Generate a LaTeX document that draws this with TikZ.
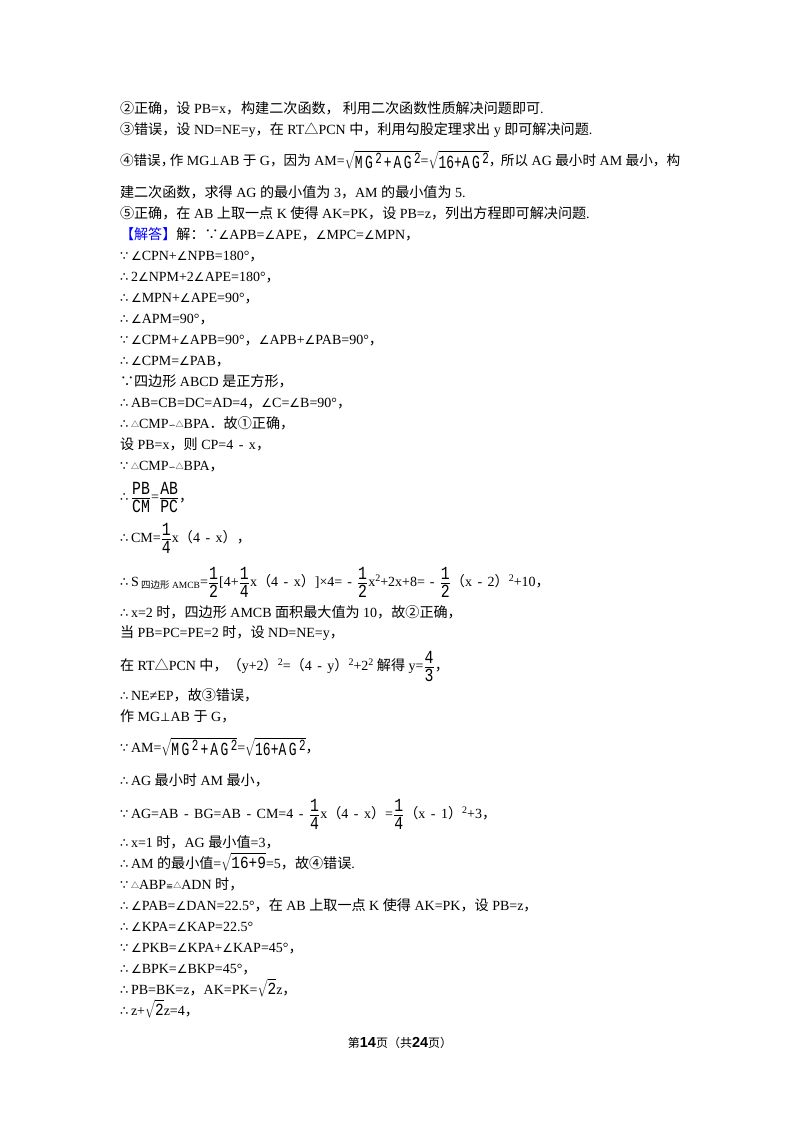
\documentclass[tikz,border=0pt]{standalone}
\usepackage{amsmath}
\font\latraw="Liberation Serif" at 14pt
\font\latsm="Liberation Serif" at 9.5pt
\font\supraw="Liberation Serif" at 10pt
\font\cjkraw="Noto Sans CJK SC" at 14.1pt
\font\cjknar="Noto Sans CJK SC" at 13.6pt
\font\cjksub="Noto Sans CJK SC" at 9.5pt
\font\cjksm="Noto Sans CJK SC" at 8pt
\font\cjkfoot="Noto Sans CJK SC" at 12pt
\font\numfoot="Liberation Sans/B" at 14.5pt
\font\symraw="DejaVu Sans" at 12pt
\font\symbig="DejaVu Sans" at 13pt
\font\symsm="DejaVu Sans" at 8.5pt
\font\ff="Liberation Mono:extend=0.8" at 18.5pt
\font\ffb="Liberation Mono:extend=0.7" at 18.5pt
\font\ffc="Liberation Mono:extend=0.85" at 17pt
\font\ffs="Liberation Mono:extend=0.7" at 15.5pt
\def\CF{\cjkraw}\def\LF{\latraw}
\newXeTeXintercharclass\cjkc
\newcount\cc
\cc="4E00 \loop\ifnum\cc<"A000 \XeTeXcharclass\cc=\cjkc \advance\cc 1 \repeat
\cc="3000 \loop\ifnum\cc<"3040 \XeTeXcharclass\cc=\cjkc \advance\cc 1 \repeat
\cc="FF00 \loop\ifnum\cc<"FF60 \XeTeXcharclass\cc=\cjkc \advance\cc 1 \repeat
\cc="2460 \loop\ifnum\cc<"2474 \XeTeXcharclass\cc=\cjkc \advance\cc 1 \repeat
\XeTeXcharclass"25B3=\cjkc
\XeTeXcharclass"2235=\cjkc
\XeTeXinterchartoks 0 \cjkc={\CF}
\XeTeXinterchartoks 4095 \cjkc={\CF}
\XeTeXinterchartoks \cjkc 0={\LF}
\XeTeXinterchartoks \cjkc 4095={\LF}
\XeTeXinterchartokenstate=1
\def\so{\hbox to 11pt{\symbig ∴\hss}}
\def\bc{\hbox to 11pt{\def\CF{\symbig}\def\LF{\symbig}\symbig ∵\hss}}
\def\ang{{\symraw ∠}}
\def\perpx{{\symraw ⊥}}
\def\stri{\begingroup\def\CF{\cjksm}\raise1pt\hbox{△}\endgroup}
\def\simx{{\symsm ∽}}
\def\congx{{\symsm ≌}}
\def\sq{\raise5pt\hbox{\supraw 2}}
\def\mn{\hskip5.5pt-\hskip5.5pt}
\def\mm{\hskip5pt-\hskip5pt}
\def\nc{\hbox to 9pt{，\hss}}
\def\ncw{\hbox to 12pt{，\hss}}
\def\fr#1#2{$\displaystyle\frac{\hbox{\ff #1}}{\hbox{\ff #2}}$}
\def\rt#1{$\sqrt{\hbox{\ffc #1}}$}
\def\rtl#1{\lower3.5pt\hbox{$\sqrt{\hbox{\ffb #1}}$}}
\def\rs{\raise5pt\hbox{\ffs 2}}
\def\mgag{M\hskip2.5pt G\hskip2.5pt\rs\hskip2pt+\hskip2pt A\hskip2.5pt G\hskip2.5pt\rs}
\def\sxag{16+A\hskip2.5pt G\hskip2.5pt\rs}
\def\subS{\lower2pt\hbox{\def\CF{\cjksub}\def\LF{\latsm}\latsm\ 四边形 AMCB}}
\tikzset{textline/.style={anchor=base west,inner sep=0pt,outer sep=0pt,font=\latraw,text=black}}
\begin{document}
\begin{tikzpicture}[x=1pt,y=-1pt]
\useasboundingbox[fill=white] (0,0) rectangle (800,1132);
\node[textline] (l01) at (120,113) {②正确，设 PB=x，\hskip1pt构建二次函数，\hskip3pt利用二次函数性质解决问题即可.};
\node[textline] (l02) at (120,134) {③错误，设 ND=NE=y，在 RT△PCN 中，利用勾股定理求出 y 即可解决问题.};
\node[textline] (l03) at (120,165) {\def\CF{\cjknar}④错误\nc 作 MG\perpx AB 于 G，因为 AM=\rtl{\mgag}=\rtl{\sxag}\ncw 所以 AG 最小时 AM 最小，构};
\node[textline] (l04) at (120,197) {建二次函数，求得 AG 的最小值为 3，AM 的最小值为 5.};
\node[textline] (l05) at (120,218) {⑤正确，在 AB 上取一点 K 使得 AK=PK，设 PB=z，列出方程即可解决问题.};
\node[textline] (l06) at (120,239) {\textcolor{blue}{【解答】}解：∵\ang APB=\ang APE，\ang MPC=\ang MPN，};
\node[textline] (l07) at (120,260) {\bc\ang CPN+\ang NPB=180°，};
\node[textline] (l08) at (120,281) {\so 2\ang NPM+2\ang APE=180°，};
\node[textline] (l09) at (120,302) {\so\ang MPN+\ang APE=90°，};
\node[textline] (l10) at (120,323) {\so\ang APM=90°，};
\node[textline] (l11) at (120,344) {\bc\ang CPM+\ang APB=90°，\ang APB+\ang PAB=90°，};
\node[textline] (l12) at (120,365) {\so\ang CPM=\ang PAB，};
\node[textline] (l13) at (120,386) {∵四边形 ABCD 是正方形，};
\node[textline] (l14) at (120,407) {\so AB=CB=DC=AD=4，\ang C=\ang B=90°，};
\node[textline] (l15) at (120,428) {\so\stri CMP\simx\stri BPA．故①正确，};
\node[textline] (l16) at (120,449) {设 PB=x，则 CP=4\mn x，};
\node[textline] (l17) at (120,470) {\bc\stri CMP\simx\stri BPA，};
\node[textline] (l18) at (120,501) {\so\fr{PB}{CM}=\fr{AB}{PC}，};
\node[textline] (l19) at (120,542) {\so CM=\fr{1}{4}x（4\mn x），};
\node[textline] (l20) at (120,586) {\so S\subS=\fr{1}{2}[4+\fr{1}{4}x（4\mn x）]×4=\mm\fr{1}{2}x\sq+2x+8=\mm\fr{1}{2}（x\mn 2）\sq+10，};
\node[textline] (l21) at (120,617) {\so x=2 时，四边形 AMCB 面积最大值为 10，故②正确，};
\node[textline] (l22) at (120,637) {当 PB=PC=PE=2 时，设 ND=NE=y，};
\node[textline] (l23) at (120,670) {在 RT△PCN 中，（y+2）\sq=（4\mn y）\sq+2\sq\ 解得 y=\fr{4}{3}，};
\node[textline] (l24) at (120,700) {\so NE≠EP，故③错误，};
\node[textline] (l25) at (120,721) {作 MG\perpx AB 于 G，};
\node[textline] (l26) at (120,752) {\bc AM=\rtl{\mgag}=\rtl{\sxag}，};
\node[textline] (l27) at (120,785) {\so AG 最小时 AM 最小，};
\node[textline] (l28) at (120,818) {\bc AG=AB\mn BG=AB\mn CM=4\mn\fr{1}{4}x（4\mn x）=\fr{1}{4}（x\mn 1）\sq+3，};
\node[textline] (l29) at (120,847) {\so x=1 时，AG 最小值=3，};
\node[textline] (l30) at (120,868) {\so AM 的最小值=\rt{16+9}=5，故④错误.};
\node[textline] (l31) at (120,889) {\bc\stri ABP\congx\stri ADN 时，};
\node[textline] (l32) at (120,910) {\so\ang PAB=\ang DAN=22.5°，在 AB 上取一点 K 使得 AK=PK，设 PB=z，};
\node[textline] (l33) at (120,931) {\so\ang KPA=\ang KAP=22.5°};
\node[textline] (l34) at (120,952) {\bc\ang PKB=\ang KPA+\ang KAP=45°，};
\node[textline] (l35) at (120,973) {\so\ang BPK=\ang BKP=45°，};
\node[textline] (l36) at (120,994) {\so PB=BK=z，AK=PK=\rt{2}z，};
\node[textline] (l37) at (120,1015) {\so z+\rt{2}z=4，};
\node[textline,anchor=base] (foot) at (400,1047) {\def\CF{\cjkfoot}\def\LF{\numfoot}第14页（共24页）};
\end{tikzpicture}
\end{document}
